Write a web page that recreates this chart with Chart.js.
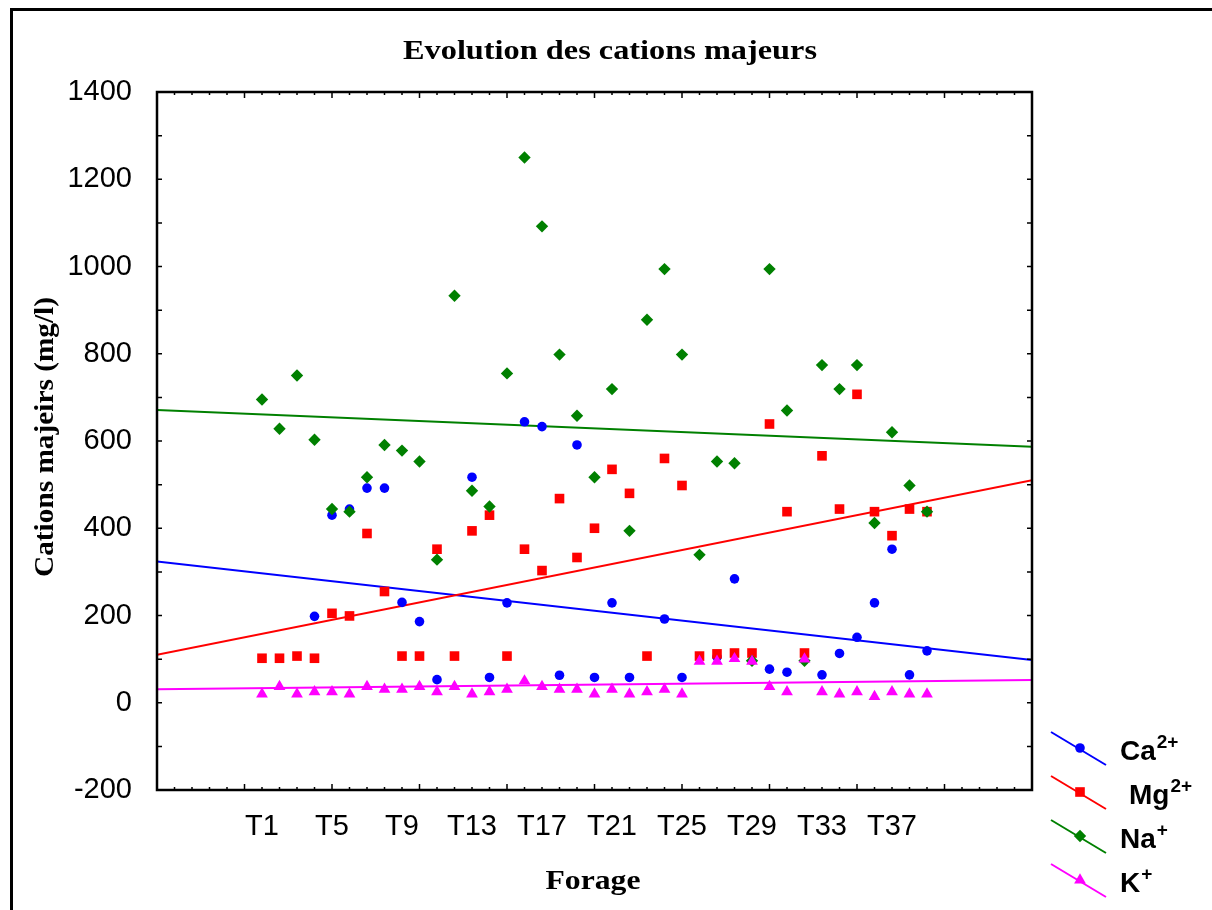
<!DOCTYPE html>
<html>
<head>
<meta charset="utf-8">
<script src="https://cdn.jsdelivr.net/npm/chart.js@4"></script>
<style>
  body { margin: 0; background: #fff; }
  canvas { display: block; }
</style>
</head>
<body>
<canvas id="cations" width="1212" height="910"></canvas>
<script>
// forages T1..T39, position = index + 1 on the x axis
const forages = Array.from({ length: 39 }, (_, i) => 'T' + (i + 1));
const tickPos = [1, 5, 9, 13, 17, 21, 25, 29, 33, 37];

const ca = [null, null, null, 198, 430, 444, 492, 492, 230, 186,
  53, null, 517, 58, 229, 644, 633, 63, 591, 58,
  229, 58, null, 192, 58, null, 105, 284, null, 77,
  70, null, 64, 113, 150, 229, 352, 64, 119];
const mg = [102, 102, 107, 102, 205, 199, 388, 255, 107, 107,
  352, 107, 394, 430, 107, 352, 303, 468, 333, 400,
  535, 480, 107, 560, 498, 107, 112, 114, 114, 639,
  438, 114, 566, 444, 707, 438, 383, 444, 438];
const na = [695, 628, 750, 603, 444, 438, 517, 591, 578, 553,
  328, 933, 486, 450, 755, 1250, 1092, 798, 658, 517,
  719, 394, 878, 994, 798, 339, 553, 549, 96, 994,
  670, 96, 774, 719, 774, 412, 620, 498, 438];
const k = [20, 37, 20, 25, 25, 20, 37, 31, 31, 37,
  25, 37, 20, 25, 31, 50, 37, 31, 31, 20,
  31, 20, 25, 31, 20, 95, 95, 101, 95, 37,
  25, 100, 25, 20, 25, 14, 25, 20, 20];

// droites d'ajustement, lues aux bords du graphe (x = -5 et x = 45)
const fitX = [-5, 45];
const fitCa = [324, 98];
const fitMg = [110, 510];
const fitNa = [671, 587];
const fitK = [31, 52];

const series = [
  { name: 'Ca', sup: '2+', vals: ca, fit: fitCa, color: '#0000ff', style: 'circle', r: 4.8 },
  { name: 'Mg', sup: '2+', vals: mg, fit: fitMg, color: '#ff0000', style: 'rect', r: 6.8 },
  { name: 'Na', sup: '+', vals: na, fit: fitNa, color: '#008000', style: 'rectRot', r: 6.2 },
  { name: 'K', sup: '+', vals: k, fit: fitK, color: '#ff00ff', style: 'triangle', r: 6.8 }
];

const datasets = [];
series.forEach((s, i) => {
  datasets.push({
    type: 'scatter',
    label: s.name,
    data: forages.map((f, j) => ({ x: j + 1, y: s.vals[j] })).filter(p => p.y !== null),
    pointStyle: s.style,
    pointRadius: s.r,
    backgroundColor: s.color,
    borderColor: s.color,
    borderWidth: 0,
    order: 4 - i
  });
  datasets.push({
    type: 'line',
    label: s.name + ' fit',
    data: fitX.map((x, j) => ({ x: x, y: s.fit[j] })),
    borderColor: s.color,
    borderWidth: 2,
    pointRadius: 0,
    fill: false,
    order: 8 - i
  });
});

function stretchText(ctx, text, x, y, font, targetW, rot) {
  ctx.save();
  ctx.translate(x, y);
  if (rot) ctx.rotate(rot);
  ctx.font = font;
  const w = ctx.measureText(text).width;
  ctx.scale(targetW / w, 1);
  ctx.textAlign = 'center';
  ctx.textBaseline = 'middle';
  ctx.fillStyle = '#000';
  ctx.fillText(text, 0, 0);
  ctx.restore();
}

function marker(ctx, style, x, y, r, color) {
  ctx.fillStyle = color;
  ctx.beginPath();
  if (style === 'circle') {
    ctx.arc(x, y, r, 0, Math.PI * 2);
  } else if (style === 'rect') {
    const h = r * Math.SQRT1_2;
    ctx.rect(x - h, y - h, 2 * h, 2 * h);
  } else if (style === 'rectRot') {
    ctx.moveTo(x, y - r); ctx.lineTo(x + r, y); ctx.lineTo(x, y + r); ctx.lineTo(x - r, y);
  } else {
    ctx.moveTo(x, y - r);
    ctx.lineTo(x + r * 0.866, y + r / 2);
    ctx.lineTo(x - r * 0.866, y + r / 2);
  }
  ctx.closePath();
  ctx.fill();
}

const cadre = {
  id: 'cadre',
  afterDraw(chart) {
    const ctx = chart.ctx;
    const a = chart.chartArea;
    const sx = chart.scales.x, sy = chart.scales.y;
    ctx.save();
    ctx.strokeStyle = '#000';

    // cadre extérieur
    ctx.lineWidth = 3;
    ctx.beginPath();
    ctx.moveTo(11.5, 910); ctx.lineTo(11.5, 9.5); ctx.lineTo(1212, 9.5);
    ctx.stroke();

    // cadre du graphe
    ctx.lineWidth = 2.5;
    ctx.strokeRect(a.left, a.top, a.right - a.left, a.bottom - a.top);

    // graduations vers l'intérieur
    ctx.lineWidth = 1.5;
    ctx.beginPath();
    for (let v = -5; v <= 45; v++) {
      const px = sx.getPixelForValue(v);
      const len = (v + 5) % 5 === 0 ? 6 : 3;
      ctx.moveTo(px, a.bottom); ctx.lineTo(px, a.bottom - len);
      ctx.moveTo(px, a.top); ctx.lineTo(px, a.top + len);
    }
    for (let v = -200; v <= 1400; v += 100) {
      const py = sy.getPixelForValue(v);
      ctx.moveTo(a.left, py); ctx.lineTo(a.left + 5, py);
      ctx.moveTo(a.right, py); ctx.lineTo(a.right - 5, py);
    }
    ctx.stroke();

    // titres
    stretchText(ctx, 'Evolution des cations majeurs', 610, 52, 'bold 28px "Liberation Serif"', 414);
    stretchText(ctx, 'Cations majeirs (mg/l)', 46, 437, 'bold 28px "Liberation Serif"', 280, -Math.PI / 2);
    stretchText(ctx, 'Forage', 593, 882, 'bold 28px "Liberation Serif"', 95);

    // légende
    series.forEach((s, i) => {
      const y0 = 732 + i * 44;
      ctx.strokeStyle = s.color;
      ctx.lineWidth = 2;
      ctx.beginPath();
      ctx.moveTo(1051, y0); ctx.lineTo(1106, y0 + 33);
      ctx.stroke();
      marker(ctx, s.style, 1080, y0 + 16, s.r, s.color);

      const tx = s.name === 'Mg' ? 1129 : 1120;
      const base = y0 + 28;
      ctx.fillStyle = '#000';
      ctx.textAlign = 'left';
      ctx.textBaseline = 'alphabetic';
      ctx.font = 'bold 28px "Liberation Sans"';
      ctx.fillText(s.name, tx, base);
      const w = ctx.measureText(s.name).width;
      ctx.font = 'bold 19px "Liberation Sans"';
      ctx.fillText(s.sup, tx + w + 1, base - 12);
    });
    ctx.restore();
  }
};

const chart = new Chart(document.getElementById('cations').getContext('2d'), {
  type: 'scatter',
  data: { datasets: datasets },
  options: {
    responsive: false,
    animation: false,
    layout: { padding: { left: 0, top: 92, right: 180, bottom: 0 } },
    plugins: {
      legend: { display: false },
      tooltip: { enabled: false },
      title: { display: false }
    },
    scales: {
      x: {
        type: 'linear',
        min: -5,
        max: 45,
        grid: { display: false },
        border: { display: false },
        afterBuildTicks: s => { s.ticks = tickPos.map(v => ({ value: v })); },
        afterFit: s => { s.height = 120; },
        ticks: {
          autoSkip: false,
          maxRotation: 0,
          padding: 12,
          color: '#000',
          font: { family: 'Liberation Sans', size: 29 },
          callback: v => 'T' + v
        }
      },
      y: {
        min: -200,
        max: 1400,
        grid: { display: false },
        border: { display: false },
        afterFit: s => { s.width = 157; },
        ticks: {
          stepSize: 200,
          padding: 17,
          color: '#000',
          font: { family: 'Liberation Sans', size: 29 },
          callback: v => String(v)
        }
      }
    }
  },
  plugins: [cadre]
});
</script>
</body>
</html>
